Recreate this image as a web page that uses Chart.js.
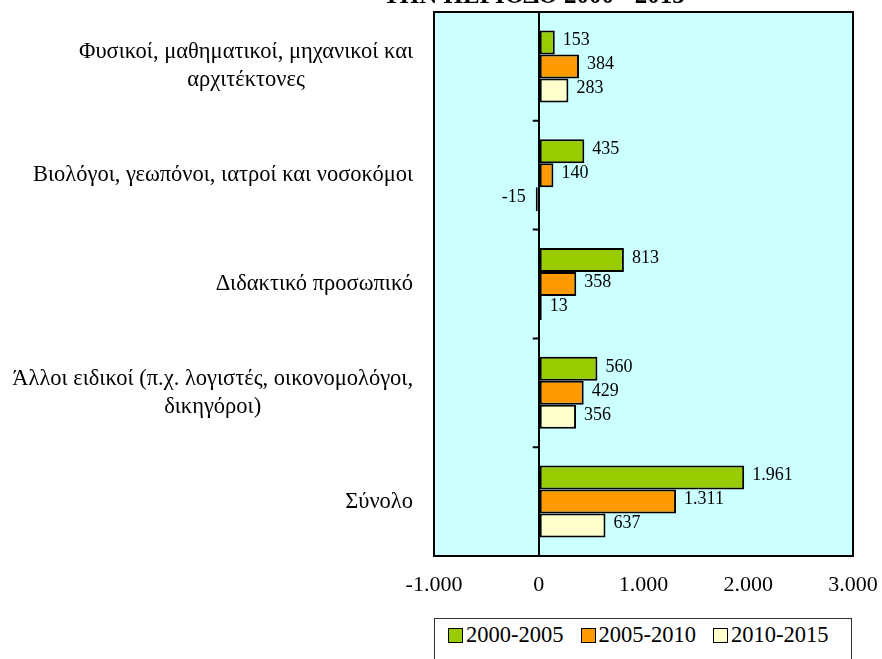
<!DOCTYPE html>
<html>
<head>
<meta charset="utf-8">
<script src="https://cdn.jsdelivr.net/npm/chart.js@4/dist/chart.umd.min.js"></script>
<style>
  html, body { margin: 0; padding: 0; background: #fff; }
  #wrap { position: relative; width: 882px; height: 659px; overflow: hidden; }
  #legend {
    position: absolute; left: 434px; top: 618px; width: 418px; height: 60px;
    border: 1px solid #333; box-sizing: border-box; background: #fff;
    font-family: 'Liberation Serif', 'Times New Roman', serif; font-size: 22.5px; color: #000;
    white-space: nowrap; padding-left: 13px; padding-top: 3px;
  }
  #legend .item { display: inline-block; margin-right: 17px; }
  #legend .box {
    display: inline-block; width: 13px; height: 13px; border: 1px solid #000;
    margin-right: 3px; vertical-align: -1px;
  }
</style>
</head>
<body>
<div id="wrap">
  <canvas id="barChart" width="882" height="659"></canvas>
  <div id="legend"></div>
</div>
<script>
var titleText = 'ΤΗΝ ΠΕΡΙΟΔΟ 2000 - 2015';

var categories = [
  ['Φυσικοί, μαθηματικοί, μηχανικοί και', 'αρχιτέκτονες'],
  ['Βιολόγοι, γεωπόνοι, ιατροί και νοσοκόμοι'],
  ['Διδακτικό προσωπικό'],
  ['Άλλοι ειδικοί (π.χ. λογιστές, οικονομολόγοι,', 'δικηγόροι)'],
  ['Σύνολο']
];

var seriesNames = ['2000-2005', '2005-2010', '2010-2015'];
var values2000 = [153, 435, 813, 560, 1961];
var values2005 = [384, 140, 358, 429, 1311];
var values2010 = [283, -15, 13, 356, 637];

var colors = ['#99CC00', '#FF9900', '#FFFFCC'];
var xTicks = [-1000, 0, 1000, 2000, 3000];

var serif = "'Liberation Serif', 'Times New Roman', serif";

function fmt(v) {
  var s = Math.abs(v).toString().replace(/\B(?=(\d{3})+(?!\d))/g, '.');
  return (v < 0 ? '-' : '') + s;
}

// cyan plot background, drawn under everything
var plotBg = {
  id: 'plotBg',
  beforeDraw: function(chart) {
    var a = chart.chartArea;
    var ctx = chart.ctx;
    ctx.save();
    ctx.fillStyle = '#CCFFFF';
    ctx.fillRect(a.left, a.top, a.right - a.left, a.bottom - a.top);
    ctx.restore();
  }
};

// border, category ticks on the zero line, labels, title
var extras = {
  id: 'extras',
  afterDraw: function(chart) {
    var ctx = chart.ctx;
    var a = chart.chartArea;
    var xs = chart.scales.x;
    var ys = chart.scales.y;
    var zeroX = xs.getPixelForValue(0);
    var i, j;

    ctx.save();
    ctx.strokeStyle = '#000';
    ctx.lineWidth = 2;
    ctx.strokeRect(a.left, a.top, a.right - a.left, a.bottom - a.top);

    ctx.beginPath();
    for (i = 1; i < categories.length; i++) {
      var yb = (ys.getPixelForTick(i - 1) + ys.getPixelForTick(i)) / 2;
      ctx.moveTo(zeroX - 6, yb);
      ctx.lineTo(zeroX, yb);
    }
    ctx.stroke();

    // value labels
    ctx.fillStyle = '#000';
    ctx.font = '18px ' + serif;
    ctx.textBaseline = 'middle';
    chart.data.datasets.forEach(function(ds, di) {
      var meta = chart.getDatasetMeta(di);
      meta.data.forEach(function(bar, k) {
        var v = ds.data[k];
        if (v < 0) {
          ctx.textAlign = 'right';
          ctx.fillText(fmt(v), bar.x - 10, bar.y - 2);
        } else {
          ctx.textAlign = 'left';
          ctx.fillText(fmt(v), bar.x + 8, bar.y - 2);
        }
      });
    });

    // category labels, each block centred on itself and right-aligned
    ctx.font = '22.5px ' + serif;
    ctx.textAlign = 'center';
    var rightX = 413;
    var lineH = 28;
    for (i = 0; i < categories.length; i++) {
      var lines = categories[i];
      var w = 0;
      for (j = 0; j < lines.length; j++) {
        w = Math.max(w, ctx.measureText(lines[j]).width);
      }
      var cx = Math.max(rightX - w / 2, w / 2 + 1);
      var cy = ys.getPixelForTick(i);
      for (j = 0; j < lines.length; j++) {
        ctx.fillText(lines[j], cx, cy + (j - (lines.length - 1) / 2) * lineH);
      }
    }

    // title, mostly cut off by the top edge
    ctx.font = 'bold 25px ' + serif;
    ctx.textBaseline = 'alphabetic';
    ctx.fillText(titleText, 534, 3);
    ctx.restore();
  }
};

function drawChart() {
  var ctx = document.getElementById('barChart');
  var seriesValues = [values2000, values2005, values2010];
  var datasets = [];
  for (var i = 0; i < seriesNames.length; i++) {
    datasets.push({
      label: seriesNames[i],
      data: seriesValues[i],
      backgroundColor: colors[i],
      borderColor: '#000',
      borderWidth: 2,
      borderSkipped: false,
      minBarLength: 3,
      categoryPercentage: 0.662,
      barPercentage: 1.0
    });
  }

  new Chart(ctx, {
    type: 'bar',
    data: {
      labels: categories.map(function(c) { return c.join(' '); }),
      datasets: datasets
    },
    options: {
      indexAxis: 'y',
      responsive: false,
      animation: false,
      layout: { padding: { top: 12, right: 29, bottom: 63, left: 0 } },
      plugins: {
        legend: { display: false },
        tooltip: { enabled: false },
        title: { display: false }
      },
      scales: {
        x: {
          min: -1000,
          max: 3000,
          afterBuildTicks: function(scale) {
            scale.ticks = xTicks.map(function(v) { return { value: v }; });
          },
          afterFit: function(scale) {
            scale.height = 40;
            scale.paddingLeft = 0;
            scale.paddingRight = 0;
          },
          border: { display: false },
          grid: {
            drawTicks: false,
            color: function(c) { return c.tick && c.tick.value === 0 ? '#000' : 'rgba(0,0,0,0)'; },
            lineWidth: 2
          },
          ticks: {
            padding: 16,
            color: '#000',
            font: { family: serif, size: 22 },
            maxRotation: 0,
            callback: function(v) { return fmt(v); }
          }
        },
        y: {
          afterFit: function(scale) { scale.width = 434; },
          border: { display: false },
          grid: { display: false },
          ticks: { display: false }
        }
      }
    },
    plugins: [plotBg, extras]
  });
}

function renderLegend() {
  var html = '';
  for (var i = 0; i < seriesNames.length; i++) {
    html += '<span class="item"><span class="box" style="background:' + colors[i] + '"></span>' + seriesNames[i] + '</span>';
  }
  document.getElementById('legend').innerHTML = html;
}

drawChart();
renderLegend();
</script>
</body>
</html>
